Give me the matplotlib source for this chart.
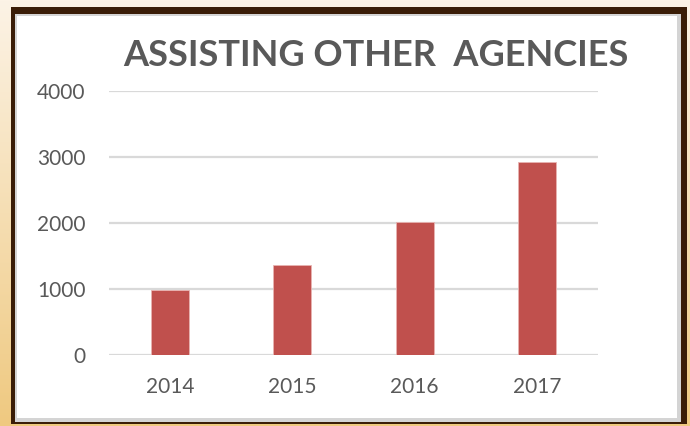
import numpy as np
import matplotlib
matplotlib.use("Agg")
import matplotlib.pyplot as plt
from matplotlib.patches import Rectangle

years = ["2014", "2015", "2016", "2017"]
cases = [980, 1360, 2020, 2920]
y_ticks = [0, 1000, 2000, 3000, 4000]

W, H = 690, 426
FONT = ["Lato", "DejaVu Sans"]
fig = plt.figure(figsize=(W / 100, H / 100), dpi=100)

# beige gradient background
bg = fig.add_axes([0, 0, 1, 1])
grad = np.linspace(0, 1, 256).reshape(-1, 1)
top = np.array([252, 243, 230]) / 255
bot = np.array([239, 201, 128]) / 255
img = top + (bot - top) * grad[..., None]
bg.imshow(np.repeat(img, 2, axis=1), aspect="auto", extent=[0, W, H, 0])
bg.set_xlim(0, W)
bg.set_ylim(H, 0)
bg.axis("off")


def px_rect(x0, y0, x1, y1, color):
    bg.add_patch(Rectangle((x0, y0), x1 - x0, y1 - y0, facecolor=color,
                           edgecolor="none"))


# dark frame, grey edge, white chart area
px_rect(11, 7, 687, 424, "#3a1d07")
px_rect(15, 14, 681, 422, "#d4d4d4")
px_rect(17, 16, 677, 418, "white")

ax = fig.add_axes([109 / W, 1 - 355 / H, (598 - 109) / W, (355 - 91) / H])
ax.set_facecolor("none")
x = np.arange(len(years))
ax.bar(x, cases, width=0.31, color="#c0504d", edgecolor="#e8b4b2",
       linewidth=0.6, zorder=3)
ax.set_xlim(-0.5, len(years) - 0.5)
ax.set_ylim(0, 4000)
ax.set_yticks(y_ticks)
ax.set_xticks(x)
ax.set_xticklabels(years)
ax.grid(axis="y", color="#d9d9d9", linewidth=1.6, zorder=0)
for s in ax.spines.values():
    s.set_visible(False)
ax.tick_params(length=0, labelsize=15, labelcolor="#595959")
ax.tick_params(axis="y", pad=17)
ax.tick_params(axis="x", pad=16)
for lab in ax.get_xticklabels() + ax.get_yticklabels():
    lab.set_family(FONT)

fig.text(376 / W, 1 - 56 / H, "ASSISTING OTHER  AGENCIES", ha="center",
         va="center", fontsize=26, fontweight="bold", color="#595959",
         family=FONT)

fig.savefig("out.png", dpi=100)
